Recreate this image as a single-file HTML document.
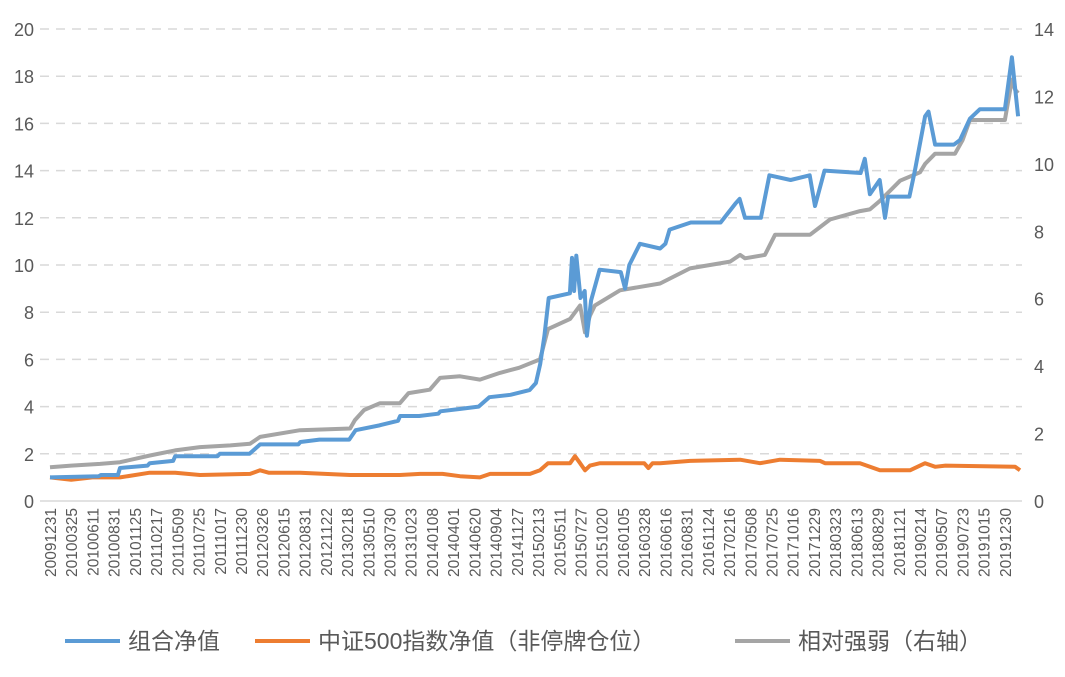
<!DOCTYPE html>
<html><head><meta charset="utf-8">
<style>
html,body{margin:0;padding:0;background:#fff;}
svg text{font-family:"Liberation Sans","Noto Sans CJK SC",sans-serif;fill:#595959;}
</style></head>
<body>
<svg id="chart" width="1065" height="672" viewBox="0 0 1065 672" xmlns="http://www.w3.org/2000/svg">
<g id="grid"></g>
<g id="yl"></g>
<g id="yr"></g>
<g id="xl"></g>
<g id="series"></g>
<g>
<g><line x1="65" y1="641" x2="120" y2="641" stroke="#5b9bd5" stroke-width="4"/><text x="128" y="649" font-size="23">组合净值</text></g>
<g><line x1="255" y1="641" x2="310" y2="641" stroke="#ed7d31" stroke-width="4"/><text x="318" y="649" font-size="23">中证500指数净值（非停牌仓位）</text></g>
<g><line x1="735" y1="641" x2="790" y2="641" stroke="#a5a5a5" stroke-width="4"/><text x="798" y="649" font-size="23">相对强弱（右轴）</text></g>
</g>
</svg>
<script>
const categories=["20091231","20100325","20100611","20100831","20101125","20110217","20110509","20110725","20111017","20111230","20120326","20120615","20120831","20121122","20130218","20130510","20130730","20131023","20140108","20140401","20140620","20140904","20141127","20150213","20150511","20150727","20151020","20160105","20160328","20160616","20160831","20161124","20170216","20170508","20170725","20171016","20171229","20180323","20180613","20180829","20181121","20190214","20190507","20190723","20191015","20191230"];
const leftTicks=[0,2,4,6,8,10,12,14,16,18,20];
const rightTicks=[0,2,4,6,8,10,12,14];
// [time index (label units), value]
const portfolio=[[0,1.0],[2.3,1.05],[2.4,1.1],[3.2,1.1],[3.3,1.4],[4.6,1.5],[4.7,1.6],[5.8,1.7],[5.9,1.9],[7.9,1.9],[8.0,2.0],[9.4,2.0],[9.9,2.4],[11.7,2.4],[11.8,2.5],[12.7,2.6],[14.1,2.6],[14.4,3.0],[15.5,3.2],[16.4,3.4],[16.5,3.6],[17.4,3.6],[18.3,3.7],[18.4,3.8],[19.3,3.9],[20.2,4.0],[20.7,4.4],[21.7,4.5],[22.6,4.7],[22.9,5.0],[23.1,5.8],[23.3,7.0],[23.5,8.6],[24.5,8.8],[24.6,10.3],[24.7,8.9],[24.8,10.4],[25.0,8.6],[25.2,8.9],[25.3,7.0],[25.5,8.5],[25.9,9.8],[26.9,9.7],[27.1,9.0],[27.3,10.0],[27.8,10.9],[28.75,10.7],[29.0,10.9],[29.2,11.5],[30.2,11.8],[31.6,11.8],[32.3,12.6],[32.5,12.8],[32.75,12.0],[33.5,12.0],[33.9,13.8],[34.9,13.6],[35.8,13.8],[36.05,12.5],[36.5,14.0],[38.2,13.9],[38.4,14.5],[38.64,13.0],[39.1,13.6],[39.35,12.0],[39.5,12.9],[40.5,12.9],[40.76,14.0],[41.24,16.3],[41.4,16.5],[41.71,15.1],[42.6,15.1],[42.89,15.3],[43.35,16.2],[43.82,16.6],[45.0,16.6],[45.33,18.8],[45.48,17.5],[45.62,16.3]];
const csi500=[[0,1.0],[1,0.9],[2,1.0],[3.3,1.0],[4.7,1.2],[5.9,1.2],[7.07,1.1],[9.43,1.15],[9.9,1.3],[10.3,1.2],[11.78,1.2],[14.14,1.1],[16.49,1.1],[17.44,1.15],[18.5,1.15],[19.32,1.05],[20.26,1.0],[20.74,1.15],[22.62,1.15],[23.09,1.3],[23.47,1.6],[24.51,1.6],[24.74,1.9],[24.98,1.6],[25.21,1.3],[25.45,1.5],[25.92,1.6],[28.0,1.6],[28.2,1.4],[28.4,1.6],[28.75,1.6],[30.16,1.7],[32.52,1.75],[33.46,1.6],[34.40,1.75],[36.29,1.7],[36.52,1.6],[38.17,1.6],[39.11,1.3],[40.53,1.3],[41.24,1.6],[41.71,1.45],[42.2,1.5],[45.48,1.45],[45.71,1.3]];
const relative=[[0,1.0],[1,1.05],[2.36,1.1],[3.3,1.15],[4.71,1.35],[5.89,1.5],[7.07,1.6],[8.5,1.65],[9.43,1.7],[9.9,1.9],[11.78,2.1],[14.14,2.15],[14.37,2.4],[14.8,2.7],[15.55,2.9],[16.49,2.9],[16.9,3.2],[17.9,3.3],[18.38,3.65],[19.32,3.7],[20.26,3.6],[21.2,3.8],[22.1,3.95],[23.09,4.2],[23.47,5.1],[24.51,5.4],[24.98,5.8],[25.21,5.0],[25.45,5.5],[25.68,5.8],[26.86,6.25],[28.75,6.45],[30.16,6.9],[32.05,7.1],[32.52,7.3],[32.75,7.2],[33.69,7.3],[34.17,7.9],[35.82,7.9],[36.76,8.35],[38.17,8.6],[38.64,8.65],[39.11,8.9],[40.06,9.5],[41.0,9.75],[41.24,10.0],[41.71,10.3],[42.65,10.3],[43.0,10.7],[43.35,11.3],[45.0,11.3],[45.33,12.5],[45.48,12.2],[45.62,12.1]];

const X0=50,DX=21.22,Y0=501,YT=29;
const xs=t=>X0+t*DX;
const yL=v=>Y0-(Y0-YT)*v/20;
const yR=v=>Y0-(Y0-YT)*v/14;
const NS="http://www.w3.org/2000/svg";
function mk(tag,attrs,parent){const e=document.createElementNS(NS,tag);for(const k in attrs)e.setAttribute(k,attrs[k]);parent.appendChild(e);return e;}
const grid=document.getElementById('grid'),yl=document.getElementById('yl'),yr=document.getElementById('yr'),xl=document.getElementById('xl'),ser=document.getElementById('series');
leftTicks.forEach(v=>{
  if(v>0){const g=mk('line',{x1:40,x2:1022,y1:yL(v),y2:yL(v),stroke:'#d9d9d9','stroke-width':1.5,'stroke-dasharray':'9,7'},grid);
  
  }
  const t=mk('text',{x:34,y:yL(v)+7,'font-size':18,'text-anchor':'end'},yl);t.textContent=v;
  
  
});
const ax=mk('line',{x1:40,x2:1022,y1:Y0,y2:Y0,stroke:'#d9d9d9','stroke-width':1.5},grid);


rightTicks.forEach(v=>{
  const t=mk('text',{x:1034,y:yR(v)+7,'font-size':18,'text-anchor':'start'},yr);t.textContent=v;
  
  
});
categories.forEach((c,i)=>{
  const x=xs(i)+6;
  const t=mk('text',{x:x,y:508,'font-size':15.5,'text-anchor':'end',transform:`rotate(-90 ${x} 508)`},xl);t.textContent=c;
  
  
});
function line(data,yf,color,name){
  const d=data.map((p,i)=>(i?'L':'M')+xs(p[0]).toFixed(1)+','+yf(p[1]).toFixed(1)).join('');
  const p=mk('path',{d:d,fill:'none',stroke:color,'stroke-width':4,'stroke-linejoin':'round'},ser);
  
  
}
line(relative,yR,'#a5a5a5','relative-strength-line');
line(csi500,yL,'#ed7d31','csi500-line');
line(portfolio,yL,'#5b9bd5','portfolio-line');
</script>
</body></html>
